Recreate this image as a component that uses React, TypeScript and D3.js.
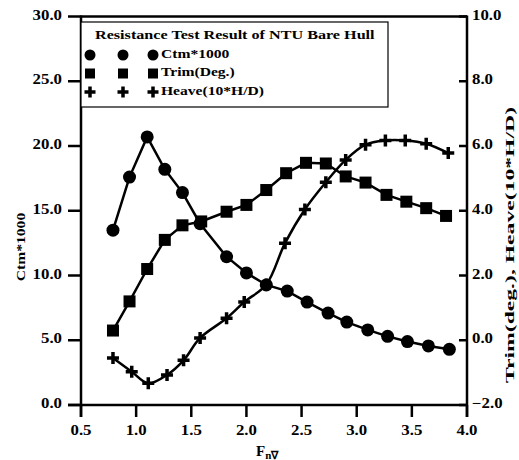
import React from 'react';
import * as d3 from 'd3';

// Resistance test, NTU bare hull: values
const ctmX: number[] = [0.79, 0.94, 1.10, 1.26, 1.42, 1.58, 1.82, 2.00, 2.18, 2.37, 2.55, 2.74, 2.91, 3.10, 3.28, 3.46, 3.65, 3.84];
const ctm: number[] = [13.5, 17.6, 20.7, 18.2, 16.4, 14.0, 11.45, 10.2, 9.27, 8.8, 7.95, 7.1, 6.4, 5.8, 5.3, 4.9, 4.56, 4.3];

const trimX: number[] = [0.79, 0.94, 1.10, 1.26, 1.42, 1.59, 1.82, 2.00, 2.18, 2.36, 2.54, 2.72, 2.90, 3.08, 3.27, 3.45, 3.63, 3.81];
const trim: number[] = [0.3, 1.2, 2.2, 3.1, 3.55, 3.67, 3.97, 4.18, 4.64, 5.16, 5.48, 5.46, 5.06, 4.87, 4.49, 4.28, 4.08, 3.84];

const heaveX: number[] = [0.79, 0.96, 1.11, 1.28, 1.43, 1.58, 1.82, 1.98, 2.18, 2.35, 2.53, 2.72, 2.90, 3.08, 3.26, 3.44, 3.63, 3.83];
const heave: number[] = [-0.55, -0.97, -1.33, -1.07, -0.62, 0.07, 0.68, 1.18, 1.72, 3.0, 4.04, 4.88, 5.57, 6.04, 6.17, 6.17, 6.07, 5.78];

const xTicks: number[] = [0.5, 1.0, 1.5, 2.0, 2.5, 3.0, 3.5, 4.0];
const leftTicks: number[] = [0, 5, 10, 15, 20, 25, 30];
const rightTicks: number[] = [-2, 0, 2, 4, 6, 8, 10];

const legendTitle = 'Resistance Test Result of NTU Bare Hull';
const legendLabels: string[] = ['Ctm*1000', 'Trim(Deg.)', 'Heave(10*H/D)'];

const W = 519;
const H = 460;
const left = 81, right = 467, top = 16.5, bottom = 405;
const font = '"Liberation Serif", "Times New Roman", serif';
const fmt = d3.format('.1f');

const x = d3.scaleLinear().domain([0.5, 4.0]).range([left, right]);
const yL = d3.scaleLinear().domain([0, 30]).range([bottom, top]);
const yR = d3.scaleLinear().domain([-2, 10]).range([bottom, top]);

// stretched bold serif text, the scan is a bit wider than tall
const T = (p: { x: number; y: number; anchor?: string; size?: number; children: any; rot?: number; len?: number }) => (
  <text
    transform={`translate(${p.x},${p.y}) rotate(${p.rot || 0}) scale(1.2,1)`}
    textAnchor={p.anchor || 'start'}
    fontSize={p.size || 13}
    fontWeight="bold"
    fontFamily={font}
    dominantBaseline="middle"
    textLength={p.len}
    lengthAdjust={p.len ? 'spacingAndGlyphs' : undefined}
  >
    {p.children}
  </text>
);

const Circle = ({ cx, cy, r = 6.5 }: any) => <circle cx={cx} cy={cy} r={r} fill="#000" />;
const Square = ({ cx, cy, s = 12 }: any) => <rect x={cx - s / 2} y={cy - s / 2} width={s} height={s} fill="#000" />;
const Plus = ({ cx, cy, s = 12 }: any) => (
  <path d={`M${cx - s / 2},${cy}H${cx + s / 2}M${cx},${cy - s / 2}V${cy + s / 2}`} stroke="#000" strokeWidth={3.5} />
);

export default function App() {
  const ctmLine = d3.line<number>().x((d, i) => x(ctmX[i])).y(d => yL(d))(ctm) || '';
  const trimLine = d3.line<number>().x((d, i) => x(trimX[i])).y(d => yR(d))(trim) || '';
  const heaveLine = d3.line<number>().curve(d3.curveCatmullRom).x((d, i) => x(heaveX[i])).y(d => yR(d))(heave) || '';

  const legX = [90, 123, 153];
  const rowY = [55, 73.5, 92];

  return (
    <svg width={W} height={H} style={{ position: 'absolute', left: 0, top: 0, background: '#fff' }}>
      {/* frame */}
      <line x1={left} x2={right} y1={top} y2={top} stroke="#000" strokeWidth={2.5} />
      <line x1={left} x2={left} y1={top - 1} y2={bottom + 12} stroke="#000" strokeWidth={2.5} />
      <line x1={right} x2={right} y1={top - 1} y2={bottom + 12} stroke="#000" strokeWidth={2.5} />
      <line x1={left - 13} x2={right} y1={bottom} y2={bottom} stroke="#000" strokeWidth={2.5} />

      {/* left axis */}
      {leftTicks.map(t => (
        <g key={'l' + t}>
          <line x1={left - 13} x2={left} y1={yL(t)} y2={yL(t)} stroke="#000" strokeWidth={2.5} />
          <T x={62} y={yL(t)} anchor="end" size={14}>{fmt(t)}</T>
        </g>
      ))}
      {/* right axis */}
      {rightTicks.map(t => (
        <g key={'r' + t}>
          <line x1={right - 8} x2={right} y1={yR(t)} y2={yR(t)} stroke="#000" strokeWidth={2.5} />
          <T x={472} y={yR(t)} size={14}>{fmt(t)}</T>
        </g>
      ))}
      {/* x axis */}
      {xTicks.map(t => (
        <g key={'x' + t}>
          <line x1={x(t)} x2={x(t)} y1={bottom} y2={bottom + 12} stroke="#000" strokeWidth={2.5} />
          <T x={x(t)} y={432} anchor="middle" size={14}>{fmt(t)}</T>
        </g>
      ))}

      {/* axis titles */}
      <T x={22} y={247} anchor="middle" rot={-90}>Ctm*1000</T>
      <T x={511} y={245} anchor="middle" rot={-90} len={230}>Trim(deg.), Heave(10*H/D)</T>
      <text x={256} y={456} fontSize={15} fontWeight="bold" fontFamily={font}>
        F<tspan fontSize={11} dy={3}>n∇</tspan>
      </text>

      {/* series */}
      <path d={ctmLine} fill="none" stroke="#000" strokeWidth={2.5} />
      <path d={trimLine} fill="none" stroke="#000" strokeWidth={2.5} />
      <path d={heaveLine} fill="none" stroke="#000" strokeWidth={2.5} />
      {ctm.map((d, i) => <Circle key={'c' + i} cx={x(ctmX[i])} cy={yL(d)} />)}
      {trim.map((d, i) => <Square key={'s' + i} cx={x(trimX[i])} cy={yR(d)} />)}
      {heave.map((d, i) => <Plus key={'p' + i} cx={x(heaveX[i])} cy={yR(d)} />)}

      {/* legend */}
      <rect x={left} y={22} width={307} height={85} fill="#fff" stroke="#000" strokeWidth={1.2} />
      <T x={95} y={36} len={233}>{legendTitle}</T>
      {legX.map((lx, i) => (
        <g key={'lg' + i}>
          <Circle cx={lx} cy={rowY[0]} r={5.5} />
          <Square cx={lx} cy={rowY[1]} s={10} />
          <Plus cx={lx} cy={rowY[2]} s={11} />
        </g>
      ))}
      {legendLabels.map((s, i) => (
        <T key={s} x={161} y={rowY[i]}>{s}</T>
      ))}
    </svg>
  );
}
